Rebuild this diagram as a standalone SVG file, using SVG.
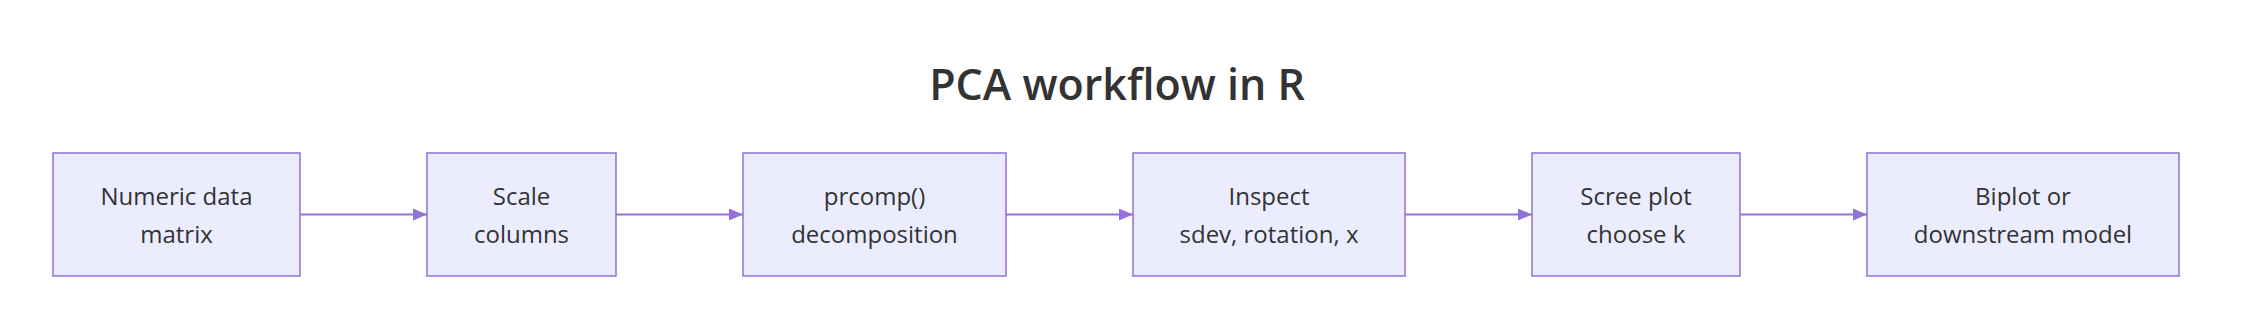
<svg xmlns="http://www.w3.org/2000/svg" width="2248" height="332" viewBox="0 0 2248 332">
<style>
.node rect{fill:#ECECFF;stroke:#9370DB;stroke-width:1.5}
.node text{font-family:"Open Sans","Liberation Sans",sans-serif;font-size:24px;fill:#333333;text-anchor:middle}
.title{font-family:"Open Sans","Liberation Sans",sans-serif;font-size:43px;font-weight:600;fill:#333333;text-anchor:middle}
.edge{stroke:#9370DB;stroke-width:1.8;fill:none}
</style>
<defs>
<marker id="arrow" viewBox="0 0 14 12" refX="14" refY="6" markerWidth="14" markerHeight="12" markerUnits="userSpaceOnUse" orient="auto">
<path d="M0,0 L14,6 L0,12 Z" fill="#9370DB"/>
</marker>
</defs>
<rect width="2248" height="332" fill="#ffffff"/>
<text class="title" x="1117" y="100">PCA workflow in R</text>
<g id="connectors">
<path class="edge" d="M300,214.5 L427,214.5" marker-end="url(#arrow)"/>
<path class="edge" d="M616,214.5 L743,214.5" marker-end="url(#arrow)"/>
<path class="edge" d="M1006,214.5 L1133,214.5" marker-end="url(#arrow)"/>
<path class="edge" d="M1405,214.5 L1532,214.5" marker-end="url(#arrow)"/>
<path class="edge" d="M1740,214.5 L1867,214.5" marker-end="url(#arrow)"/>
</g>
<g id="n1" class="node"><rect x="53" y="153" width="247" height="123"/><text x="176.5" y="205">Numeric data</text><text x="176.5" y="243">matrix</text></g>
<g id="n2" class="node"><rect x="427" y="153" width="189" height="123"/><text x="521.5" y="205">Scale</text><text x="521.5" y="243">columns</text></g>
<g id="n3" class="node"><rect x="743" y="153" width="263" height="123"/><text x="874.5" y="205">prcomp()</text><text x="874.5" y="243">decomposition</text></g>
<g id="n4" class="node"><rect x="1133" y="153" width="272" height="123"/><text x="1269" y="205">Inspect</text><text x="1269" y="243">sdev, rotation, x</text></g>
<g id="n5" class="node"><rect x="1532" y="153" width="208" height="123"/><text x="1636" y="205">Scree plot</text><text x="1636" y="243">choose k</text></g>
<g id="n6" class="node"><rect x="1867" y="153" width="312" height="123"/><text x="2023" y="205">Biplot or</text><text x="2023" y="243">downstream model</text></g>
</svg>
